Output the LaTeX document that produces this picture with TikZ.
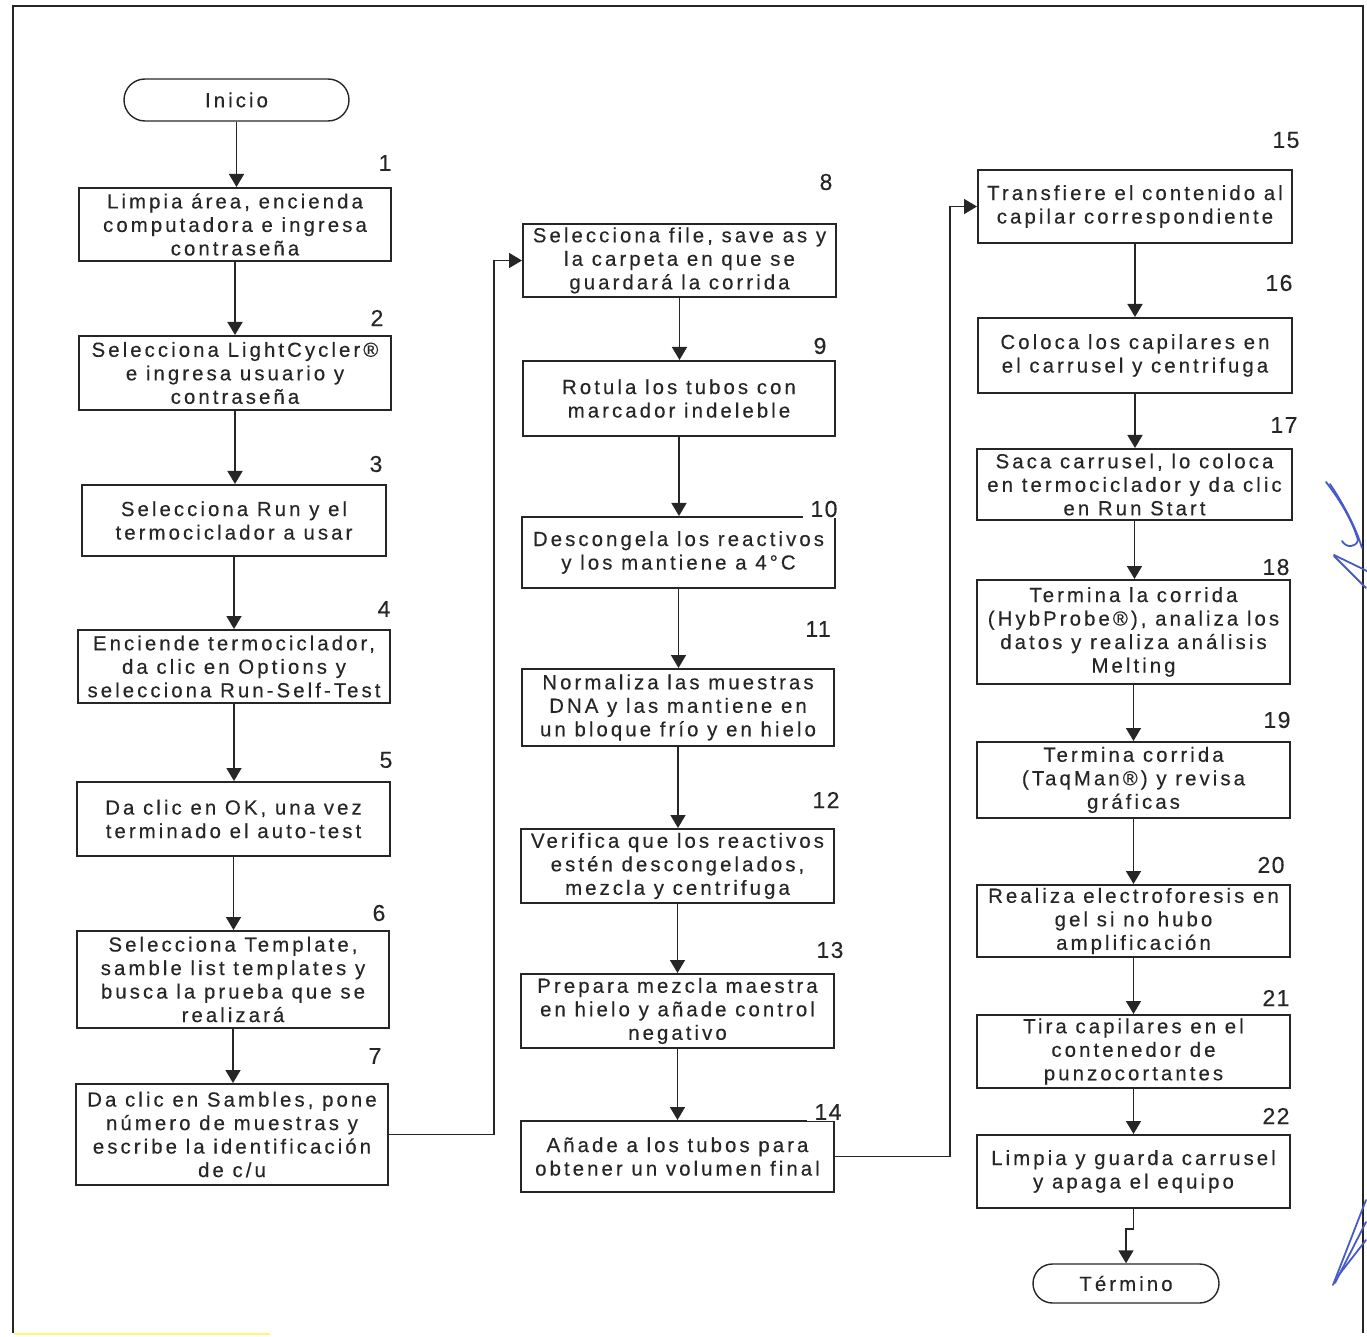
\documentclass[tikz,border=0pt]{standalone}
\usepackage{fontspec}
\setmainfont{Liberation Sans}
\newfontfamily\boxfont[LetterSpace=15, FakeBold=0.3]{Liberation Sans}
\newfontfamily\numfont[LetterSpace=6, FakeBold=0.3]{Liberation Sans}
\usetikzlibrary{arrows.meta,shapes.misc}

\definecolor{penblue}{RGB}{70,90,200}

\tikzset{
  stepbox/.style={draw=black!85, line width=1pt, align=center, inner sep=0pt,
    font=\boxfont\fontsize{10.2}{11.75}\selectfont, text=black!85},
  dims/.style 2 args={minimum width=#1*0.5pt, minimum height=#2*0.5pt},
  term/.style={stepbox, rounded rectangle, line width=0.7pt},
  flow/.style={draw=black!85, line width=0.8pt, -{Triangle[width=7.5pt,length=6.5pt]}},
  num/.style={font=\numfont\fontsize{11.5}{13}\selectfont, text=black!85, inner sep=1pt},
  numcover/.style={num, fill=white, inner xsep=4pt, inner ysep=0.5pt},
  pen/.style={draw=penblue, line width=0.9pt, line cap=round, line join=round}
}

\begin{document}
\begin{tikzpicture}[x=0.5pt,y=-0.5pt]
\useasboundingbox (0,0) rectangle (1367,1337);

% page frame
\draw[black!85, line width=1pt] (13,1333) -- (13,6) -- (1363,6) -- (1363,1333);
\draw[yellow!55!white, line width=1pt] (14,1334) -- (270,1334);

% start / end
\node[term, dims={225}{42}] (ini) at (236.5,100) {Inicio};
\node[term, dims={186}{39}] (fin) at (1126,1283.5) {Término};

% first column
\node[stepbox, dims={312}{73}] (b1) at (235,224.5) {Limpia área, encienda\\computadora e ingresa\\contraseña};
\node[stepbox, dims={312}{74}] (b2) at (235,373) {Selecciona LightCycler®\\e ingresa usuario y\\contraseña};
\node[stepbox, dims={304}{71}] (b3) at (234,520.5) {Selecciona Run y el\\termociclador a usar};
\node[stepbox, dims={312}{73}] (b4) at (234,666.5) {Enciende termociclador,\\da clic en Options y\\selecciona Run-Self-Test};
\node[stepbox, dims={313}{74}] (b5) at (233.5,819) {Da clic en OK, una vez\\terminado el auto-test};
\node[stepbox, dims={312}{97}] (b6) at (233,979.5) {Selecciona Template,\\samble list templates y\\busca la prueba que se\\realizará};
\node[stepbox, dims={312}{101}] (b7) at (232,1134.5) {Da clic en Sambles, pone\\número de muestras y\\escribe la identificación\\de c/u};

% second column
\node[stepbox, dims={313}{73}] (b8) at (679.5,260.5) {Selecciona file, save as y\\la carpeta en que se\\guardará la corrida};
\node[stepbox, dims={312}{75}] (b9) at (679,398.5) {Rotula los tubos con\\marcador indeleble};
\node[stepbox, dims={313}{71}] (b10) at (678.5,552.5) {Descongela los reactivos\\y los mantiene a 4°C};
\node[stepbox, dims={312}{77}] (b11) at (678,707.5) {Normaliza las muestras\\DNA y las mantiene en\\un bloque frío y en hielo};
\node[stepbox, dims={313}{74}] (b12) at (677.5,866) {Verifica que los reactivos\\estén descongelados,\\mezcla y centrifuga};
\node[stepbox, dims={313}{74}] (b13) at (677.5,1011) {Prepara mezcla maestra\\en hielo y añade control\\negativo};
\node[stepbox, dims={313}{71}] (b14) at (677.5,1156.5) {Añade a los tubos para\\obtener un volumen final};

% third column
\node[stepbox, dims={314}{73}] (b15) at (1135,206.5) {Transfiere el contenido al\\capilar correspondiente};
\node[stepbox, dims={314}{75}] (b16) at (1135,355.5) {Coloca los capilares en\\el carrusel y centrifuga};
\node[stepbox, dims={315}{71}] (b17) at (1134.5,484.5) {Saca carrusel, lo coloca\\en termociclador y da clic\\en Run Start};
\node[stepbox, dims={313}{104}] (b18) at (1133.5,632) {Termina la corrida\\(HybProbe®), analiza los\\datos y realiza análisis\\Melting};
\node[stepbox, dims={313}{76}] (b19) at (1133.5,780) {Termina corrida\\(TaqMan®) y revisa\\gráficas};
\node[stepbox, dims={313}{72}] (b20) at (1133.5,921) {Realiza electroforesis en\\gel si no hubo\\amplificación};
\node[stepbox, dims={313}{73}] (b21) at (1133.5,1051.5) {Tira capilares en el\\contenedor de\\punzocortantes};
\node[stepbox, dims={313}{73}] (b22) at (1133.5,1171.5) {Limpia y guarda carrusel\\y apaga el equipo};

% step numbers
\node[num] (n1) at (385,163) {1};
\node[num] (n2) at (377,318) {2};
\node[num] (n3) at (376,464) {3};
\node[num] (n4) at (384,609) {4};
\node[num] (n5) at (386,760) {5};
\node[num] (n6) at (379,913) {6};
\node[num] (n7) at (375,1056) {7};
\node[num] (n8) at (826,182) {8};
\node[num] (n9) at (820,346) {9};
\node[numcover] (n10) at (824,509) {10};
\node[num] (n11) at (818,629) {11};
\node[num] (n12) at (826,800) {12};
\node[num] (n13) at (830,950) {13};
\node[numcover] (n14) at (828,1112) {14};
\node[num] (n15) at (1286,140) {15};
\node[num] (n16) at (1279,283) {16};
\node[num] (n17) at (1284,425) {17};
\node[num] (n18) at (1276,567) {18};
\node[num] (n19) at (1277,720) {19};
\node[num] (n20) at (1271,865) {20};
\node[num] (n21) at (1276,998) {21};
\node[num] (n22) at (1276,1116) {22};

% connectors inside each column
\draw[flow] (ini.south) -- (ini.south |- b1.north);
\foreach \a/\b in {b1/b2, b2/b3, b3/b4, b4/b5, b5/b6, b6/b7,
                   b8/b9, b9/b10, b10/b11, b11/b12, b12/b13, b13/b14,
                   b15/b16, b16/b17, b17/b18, b18/b19, b19/b20, b20/b21, b21/b22}
  \draw[flow] (\a.south) -- (\a.south |- \b.north);

% column transfers
\coordinate (j1) at (494,0);
\coordinate (j2) at (950,0);
\draw[flow] (b7.east) -| (j1 |- b8.west) -- (b8.west);
\draw[flow] (b14.east) -| (j2 |- b15.west) -- (b15.west);

% last step to end
\coordinate (k1) at (0,1229);
\draw[flow] (b22.south) -- (b22.south |- k1) -| (fin.north);

% handwritten initials in the margin
\draw[pen] (1326,482) .. controls (1340,500) and (1352,520) .. (1358,540)
  .. controls (1356,548) and (1346,548) .. (1342,541);
\draw[pen] (1330,484) .. controls (1344,505) and (1356,528) .. (1362,548);
\draw[pen] (1334,555) -- (1367,571);
\draw[pen] (1334,556) -- (1366,588);
\draw[pen] (1333,1285) -- (1366,1200);
\draw[pen] (1335,1283) -- (1366,1222);
\draw[pen] (1338,1276) -- (1366,1240);
\end{tikzpicture}
\end{document}
